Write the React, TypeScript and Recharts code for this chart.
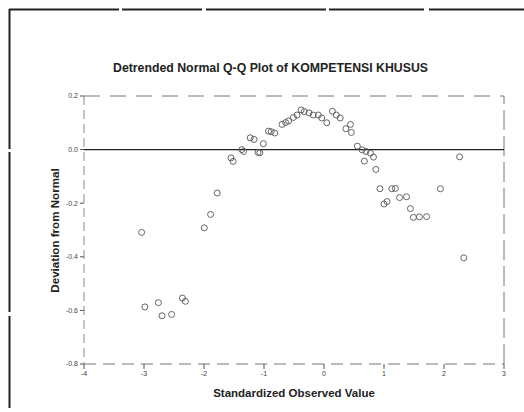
import React from "react";
import { ScatterChart, Scatter, XAxis, YAxis, ReferenceLine } from "recharts";

const observedValues = [
  -3.04, -2.985, -2.76, -2.7, -2.54, -2.36, -2.31, -1.995, -1.89, -1.78,
  -1.55, -1.515, -1.37, -1.34, -1.23, -1.165, -1.1, -1.07, -1.01, -0.925,
  -0.88, -0.82, -0.7, -0.64, -0.59, -0.51, -0.45, -0.38, -0.33, -0.25,
  -0.18, -0.095, -0.037, 0.047, 0.14, 0.205, 0.27, 0.364, 0.44, 0.456,
  0.556, 0.635, 0.673, 0.7, 0.773, 0.824, 0.865, 0.932, 1.0, 1.05,
  1.13, 1.19, 1.26, 1.375, 1.44, 1.49, 1.59, 1.71, 1.94, 2.26, 2.33,
];

const deviations = [
  -0.309, -0.587, -0.571, -0.62, -0.615, -0.554, -0.566, -0.292, -0.242, -0.162,
  -0.031, -0.044, 0.0, -0.007, 0.044, 0.038, -0.01, -0.012, 0.022, 0.069,
  0.067, 0.062, 0.094, 0.101, 0.107, 0.12, 0.129, 0.148, 0.142, 0.137,
  0.129, 0.129, 0.118, 0.1, 0.143, 0.129, 0.118, 0.078, 0.094, 0.064,
  0.013, -0.001, -0.043, -0.007, -0.013, -0.028, -0.074, -0.146, -0.203, -0.194,
  -0.146, -0.145, -0.179, -0.176, -0.22, -0.253, -0.251, -0.25, -0.146, -0.027, -0.404,
];

const xTicks = [-4, -3, -2, -1, 0, 1, 2, 3];
const yTicks = [0.2, 0.0, -0.2, -0.4, -0.6, -0.8];

const titleText = "Detrended Normal Q-Q Plot of KOMPETENSI KHUSUS";
const xTitle = "Standardized Observed Value";
const yTitle = "Deviation from Normal";

const data = observedValues.map((x, i) => ({ x, y: deviations[i] }));

const FONT = "'Liberation Sans', Arial, sans-serif";

const OpenCircle = (props: any) => {
  const { cx, cy } = props;
  if (cx == null || cy == null) return null;
  return <circle cx={cx} cy={cy} r={3} fill="none" stroke="#555" strokeWidth={0.9} />;
};

const tickStyle = { fontSize: 7, fill: "#444", fontFamily: FONT };

export default function App() {
  return (
    <div style={{ position: "absolute", left: 0, top: 0, width: 524, height: 412, background: "#fff" }}>
      <ScatterChart
        width={524}
        height={412}
        margin={{ top: 96, right: 20, left: 0, bottom: 0 }}
      >
        <XAxis
          type="number"
          dataKey="x"
          domain={[-4, 3]}
          ticks={xTicks}
          allowDataOverflow
          height={48}
          tickSize={5}
          tickMargin={2}
          tick={tickStyle}
          axisLine={{ stroke: "#777", strokeDasharray: "12 7" }}
          tickLine={{ stroke: "#555" }}
        />
        <YAxis
          type="number"
          dataKey="y"
          domain={[-0.8, 0.2]}
          ticks={yTicks}
          allowDataOverflow
          width={84}
          tickSize={4}
          tickMargin={2}
          tick={tickStyle}
          tickFormatter={(v: number) => v.toFixed(1)}
          axisLine={{ stroke: "#888", strokeDasharray: "9 5" }}
          tickLine={{ stroke: "#555" }}
        />
        <ReferenceLine y={0.2} stroke="#777" strokeDasharray="16 10" ifOverflow="extendDomain" />
        <ReferenceLine x={3} stroke="#777" strokeDasharray="20 6" ifOverflow="extendDomain" />
        <ReferenceLine y={0} stroke="#222" strokeWidth={1.2} />
        <Scatter data={data} isAnimationActive={false} shape={<OpenCircle />} />
      </ScatterChart>
      <svg
        width={524}
        height={412}
        style={{ position: "absolute", left: 0, top: 0, pointerEvents: "none" }}
      >
        <line x1={9} y1={9.5} x2={524} y2={9.5} stroke="#222" strokeWidth={2} strokeDasharray="110 3 80 4 120 3 95 5 200" />
        <line x1={9.5} y1={9} x2={9.5} y2={408} stroke="#222" strokeWidth={2} strokeDasharray="140 3 160 4 200" />
        <text x={270.5} y={72} textAnchor="middle" fontFamily={FONT} fontWeight="bold" fontSize={12.3} fill="#222">
          {titleText}
        </text>
        <text x={294} y={397} textAnchor="middle" fontFamily={FONT} fontWeight="bold" fontSize={11.5} fill="#222">
          {xTitle}
        </text>
        <text
          x={0}
          y={0}
          transform="translate(59,230.5) rotate(-90)"
          textAnchor="middle"
          fontFamily={FONT}
          fontWeight="bold"
          fontSize={11.6}
          fill="#222"
        >
          {yTitle}
        </text>
      </svg>
    </div>
  );
}
